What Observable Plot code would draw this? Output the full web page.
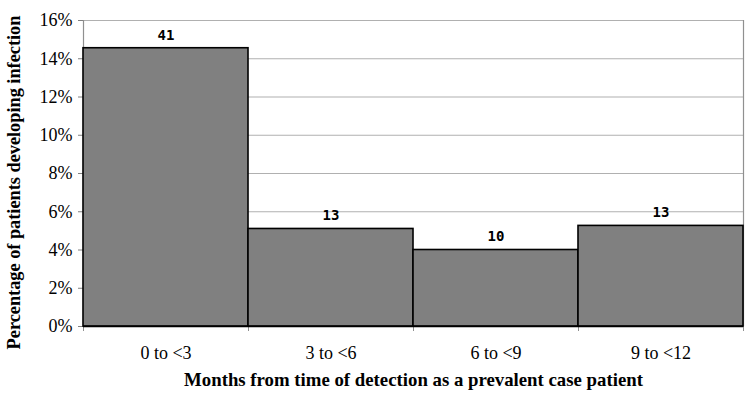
<!DOCTYPE html>
<html>
<head>
<meta charset="utf-8">
<script src="https://cdn.jsdelivr.net/npm/d3@7"></script>
<script src="https://cdn.jsdelivr.net/npm/@observablehq/plot@0.6"></script>
<style>
  html, body { margin: 0; padding: 0; background: #fff; }
  #chart svg { display: block; }
  #chart g[aria-label="y-axis tick label"] text { font-size: 18px; }
</style>
</head>
<body>
<div id="chart"></div>
<script>
const categories = ["0 to <3", "3 to <6", "6 to <9", "9 to <12"];
const monthStart = [0, 3, 6, 9];
const monthEnd = [3, 6, 9, 12];
const percentValues = [14.55, 5.1, 4.0, 5.26];
const counts = [41, 13, 10, 13];
const yTicks = [0, 2, 4, 6, 8, 10, 12, 14, 16];
const xBoundaries = [0, 3, 6, 9, 12];

const data = categories.map((c, i) => ({
  cat: c, x1: monthStart[i], x2: monthEnd[i],
  mid: (monthStart[i] + monthEnd[i]) / 2,
  pct: percentValues[i], n: counts[i]
}));

const serif = "'Liberation Serif', 'Times New Roman', serif";

const chart = Plot.plot({
  width: 750,
  height: 400,
  marginLeft: 83,
  marginRight: 7,
  marginTop: 20,
  marginBottom: 74,
  style: { fontFamily: serif, fontSize: "18px", color: "#000", background: "#fff" },
  x: { domain: [0, 12] },
  y: { domain: [0, 16] },
  marks: [
    Plot.ruleY(yTicks, { stroke: "#b0b0b0", strokeWidth: 1.2 }),
    Plot.ruleX([xBoundaries[xBoundaries.length - 1]], { stroke: "#909090", strokeWidth: 1.2 }),
    Plot.ruleX([xBoundaries[0]], { stroke: "#909090", strokeWidth: 1.2 }),
    Plot.axisY({ ticks: yTicks, tickFormat: d => d + "%", tickSize: 5, tickPadding: 6, stroke: "#808080", label: null, fontSize: 18 }),
    Plot.axisX({ ticks: xBoundaries, tickFormat: () => "", tickSize: 5, stroke: "#909090", label: null }),
    Plot.rectY(data, { x1: "x1", x2: "x2", y: "pct", fill: "#808080", stroke: "#000", strokeWidth: 1.6 }),
    Plot.ruleY([0], { stroke: "#000", strokeWidth: 1.6 }),
    Plot.text(data, { x: "mid", y: "pct", text: d => String(d.n), dy: -13, fontFamily: "'DejaVu Sans Mono', monospace", fontWeight: "bold", fontSize: 14 }),
    Plot.text(data, { x: "mid", y: 0, text: "cat", dy: 27, fontSize: 18 }),
    Plot.text(["Months from time of detection as a prevalent case patient"], { frameAnchor: "bottom", dy: 59, fontWeight: "bold", fontSize: 18.8 }),
    Plot.text(["Percentage of patients developing infection"], { frameAnchor: "left", textAnchor: "middle", dx: -69, dy: 9, rotate: -90, fontWeight: "bold", fontSize: 18.3 })
  ]
});
document.getElementById("chart").appendChild(chart);
</script>
</body>
</html>
